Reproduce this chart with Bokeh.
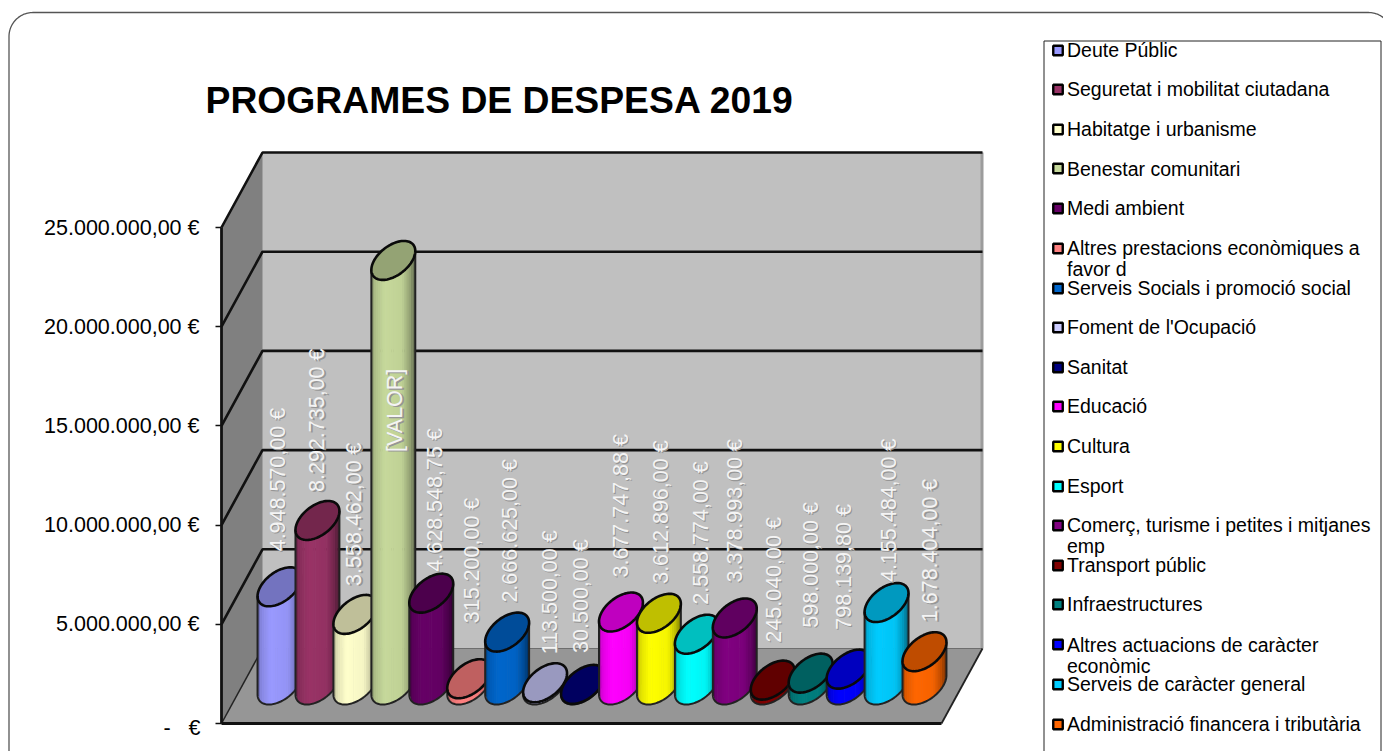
import math
import numpy as np
from bokeh.plotting import figure
from bokeh.models import Range1d, FixedTicker, LinearScale
from bokeh.core.properties import value
from bokeh.embed import file_html
from bokeh.resources import INLINE

# ---------- data ----------
categories = ["Deute Públic", "Seguretat i mobilitat ciutadana", "Habitatge i urbanisme",
              "Benestar comunitari", "Medi ambient",
              "Altres prestacions econòmiques a\nfavor d", "Serveis Socials i promoció social",
              "Foment de l'Ocupació", "Sanitat", "Educació", "Cultura", "Esport",
              "Comerç, turisme i petites i mitjanes\nemp", "Transport públic", "Infraestructures",
              "Altres actuacions de caràcter\neconòmic", "Serveis de caràcter general",
              "Administració financera i tributària"]
amounts = [4948570.00, 8292735.00, 3558462.00, 21400000.00, 4628548.75, 315200.00, 2666625.00,
           113500.00, 30500.00, 3677747.88, 3612896.00, 2558774.00, 3378993.00, 245040.00,
           598000.00, 798139.80, 4155484.00, 1678404.00]
value_labels = ["4.948.570,00 €", "8.292.735,00 €", "3.558.462,00 €", "[VALOR]", "4.628.548,75 €",
                "315.200,00 €", "2.666.625,00 €", "113.500,00 €", "30.500,00 €", "3.677.747,88 €",
                "3.612.896,00 €", "2.558.774,00 €", "3.378.993,00 €", "245.040,00 €", "598.000,00 €",
                "798.139,80 €", "4.155.484,00 €", "1.678.404,00 €"]
colors = ["#9999FF", "#993366", "#FFFFCC", "#C6D99B", "#660066", "#FF8080", "#0066CC", "#CCCCFF",
          "#000080", "#FF00FF", "#FFFF00", "#00FFFF", "#800080", "#800000", "#008080", "#0000FF",
          "#00CCFF", "#FF6600"]
tick_values = [0, 5000000, 10000000, 15000000, 20000000, 25000000]
tick_labels = ["", "5.000.000,00 €", "10.000.000,00 €", "15.000.000,00 €", "20.000.000,00 €",
               "25.000.000,00 €"]
zero_label = "-\u00a0\u00a0\u00a0€"
title_text = "PROGRAMES DE DESPESA 2019"

# ---------- layout (reference pixels) ----------
W, H = 1383, 751
OX, OY = 0, 0
FLOOR_Y, TOP_Y = 723, 227
K = 25000000 / (FLOOR_Y - TOP_Y)          # euros per pixel
DX, DY = 41, 75                           # depth of the box
WALL_L, WALL_R = 221, 982
CX0, CX_STEP = 279, 37.94
BASE_H = 38.5                             # cylinder base centre above the floor's front edge
A, BX, RY = 19.2, 10.66, 19.5
label_gap = [16, 9, 9, -211, 2, 36, 10, 9, 12, 15, 10, 10, 16, 18, 26, 20, 1, 10]
label_dx = [-2, 0, -1, 2, 4, 3, 3, 5, -2, 0, 2, 4, 0, 1, 0, -5, 2, 6]
legend_y = [49, 88, 128, 168, 207, 258, 287, 326, 366, 405, 445, 485, 535, 564, 603, 655, 683, 723]
legend_sq = [50, 89, 129, 168, 208, 248, 288, 327, 367, 406, 446, 486, 525, 565, 604, 644, 684, 724]

p = figure(width=W, height=H, output_backend="svg", toolbar_location=None,
           x_range=Range1d(OX, OX + W), y_range=Range1d((FLOOR_Y - (OY + H)) * K, (FLOOR_Y - OY) * K),
           x_axis_location=None, y_axis_location="left", min_border=0, outline_line_color=None,
           background_fill_color="white", border_fill_color="white")
p.grid.visible = False
p.extra_y_ranges = {"px": Range1d(OY + H, OY)}
p.extra_y_scales = {"px": LinearScale()}

# ---------- outer rounded frame ----------
R = 24
fx0, fy0, fx1 = 8.5, 12, 1392
ang = np.linspace(math.pi, 1.5 * math.pi, 30)
ang2 = np.linspace(1.5 * math.pi, 2 * math.pi, 30)
fxs = [fx0] + list(fx0 + R + R * np.cos(ang)) + list(fx1 - R + R * np.cos(ang2))
fys = [760] + list(fy0 + R + R * np.sin(ang)) + list(fy0 + R + R * np.sin(ang2))
p.line(fxs, fys, y_range_name="px", line_color="#555555", line_width=1.3)

# ---------- 3D box ----------
back = DY * K
max_t = tick_values[-1]
p.patch([WALL_L, WALL_L + DX, WALL_R, WALL_R],
        [back, max_t + back, max_t + back, back], fill_color="#C0C0C0", line_color=None)
p.patch([WALL_R - 2, WALL_R + 1, WALL_R + 1, WALL_R - 2],
        [back, back, max_t + back, max_t + back], fill_color="#9C9C9C", line_color=None)
p.patch([WALL_L, WALL_L + DX, WALL_L + DX, WALL_L],
        [0, back, max_t + back, max_t], fill_color="#808080", line_color=None)
p.patch([WALL_L, WALL_L + DX, WALL_R, WALL_R - DX],
        [0, back, back, 0], fill_color="#969696", line_color=None)
p.line([WALL_L + DX, WALL_R], [back, back], line_color="#6E6E6E", line_width=1)
p.line([WALL_L, WALL_L + DX], [0, back], line_color="#222222", line_width=1.5)
p.line([WALL_R - DX, WALL_R], [0, back], line_color="#222222", line_width=1.8)
p.line([WALL_L, WALL_R - DX], [0, 0], line_color="#111111", line_width=2.8)
for t in tick_values[1:]:
    p.line([WALL_L, WALL_L + DX, WALL_R], [t, t + back, t + back], line_color="#111111", line_width=2.6)

# ---------- cylinders ----------
def shade(hex_color, f):
    r, g, b = [int(hex_color[i:i + 2], 16) for i in (1, 3, 5)]
    return "#%02X%02X%02X" % (round(r * f), round(g * f), round(b * f))

stops_u = [0, 0.08, 0.3, 0.7, 0.88, 1]
stops_f = [0.62, 0.88, 1.0, 0.96, 0.74, 0.48]
t0 = math.atan2(BX, A)
half_w = math.hypot(A, BX)
tt_low = np.linspace(t0 + math.pi, t0 + 2 * math.pi, 60)
arc_x = A * np.cos(tt_low) + BX * np.sin(tt_low)
arc_h = RY * np.sin(tt_low)
tt_all = np.linspace(0, 2 * math.pi, 90)
ell_x = A * np.cos(tt_all) + BX * np.sin(tt_all)
ell_h = RY * np.sin(tt_all)
N = 20
for i, (amt, col) in enumerate(zip(amounts, colors)):
    cx = CX0 + CX_STEP * i
    base = BASE_H * K
    top = base + amt
    edges = np.linspace(-half_w, half_w, N + 1)
    xs, ys, fills = [], [], []
    for j in range(N):
        a, b = edges[j], edges[j + 1]
        b2 = min(b + 0.6, half_w)
        ya, yb = np.interp([a, b2], arc_x, arc_h) * K
        xs.append([cx + a, cx + b2, cx + b2, cx + a])
        ys.append([base + ya, base + yb, top + yb, top + ya])
        fills.append(shade(col, float(np.interp((j + 0.5) / N, stops_u, stops_f))))
    p.patches(xs, ys, fill_color=fills, line_color=None)
    ox = list(cx + arc_x) + [cx + half_w, cx - half_w, cx - half_w]
    oy = list(base + arc_h * K) + [top + arc_h[-1] * K, top + arc_h[0] * K, base + arc_h[0] * K]
    p.line(ox, oy, line_color="#222222", line_width=2)
    p.patch(cx + ell_x, top + ell_h * K, fill_color=shade(col, 0.75), line_color="#0A0A0A", line_width=2.6)

# ---------- value labels ----------
lab_x = [CX0 + CX_STEP * i + d for i, d in enumerate(label_dx)]
lab_y = [a + (BASE_H + RY + g) * K for a, g in zip(amounts, label_gap)]
for dx, color in ((1.2, "#969696"), (0, "#F4F4F4")):
    p.text([x + dx for x in lab_x], [y - dx * K for y in lab_y], text=value_labels, angle=math.pi / 2,
           text_align="left", text_baseline="middle", text_color=color,
           text_font=value("Liberation Sans"), text_font_size="21.5px")

# ---------- axis ----------
ax = p.yaxis[0]
ax.fixed_location = WALL_L
ax.ticker = FixedTicker(ticks=tick_values)
ax.major_label_overrides = {t: l for t, l in zip(tick_values, tick_labels)}
ax.bounds = (tick_values[0], tick_values[-1])
ax.axis_line_color = "#111111"
ax.axis_line_width = 2.8
ax.major_tick_line_color = "#111111"
ax.major_tick_line_width = 1.5
ax.major_tick_in = 0
ax.major_tick_out = 6
ax.minor_tick_line_color = None
ax.major_label_standoff = 16
ax.major_label_text_font = "Liberation Sans"
ax.major_label_text_font_size = "21.5px"
ax.major_label_text_color = "#000000"
p.text([200], [0], text=[zero_label], y_offset=4, text_align="right", text_baseline="middle",
       text_font=value("Liberation Sans"), text_font_size="21.5px", text_color="#000000")

# ---------- title ----------
p.text([205], [99.5], y_range_name="px", text=[title_text], text_align="left", text_baseline="middle",
       text_font=value("Liberation Sans"), text_font_style="bold", text_font_size="37.3px",
       text_color="#000000")

# ---------- legend ----------
lx0, lx1, ly0 = 1043.5, 1380.5, 40.5
p.line([lx0, lx0, lx1, lx1], [760, ly0, ly0, 760], y_range_name="px", line_color="#222222", line_width=1)
p.scatter([1057.5] * len(colors), legend_sq, y_range_name="px", marker="square", size=9.5,
          fill_color=colors, line_color="#000000", line_width=2.4)
p.text([1066.5] * len(categories), legend_y, y_range_name="px", text=categories, text_align="left",
       text_baseline="middle", text_font=value("Liberation Sans"), text_font_size="19.5px",
       text_color="#000000", text_line_height=0.98)

open("out.html", "w").write(file_html(p, INLINE))
